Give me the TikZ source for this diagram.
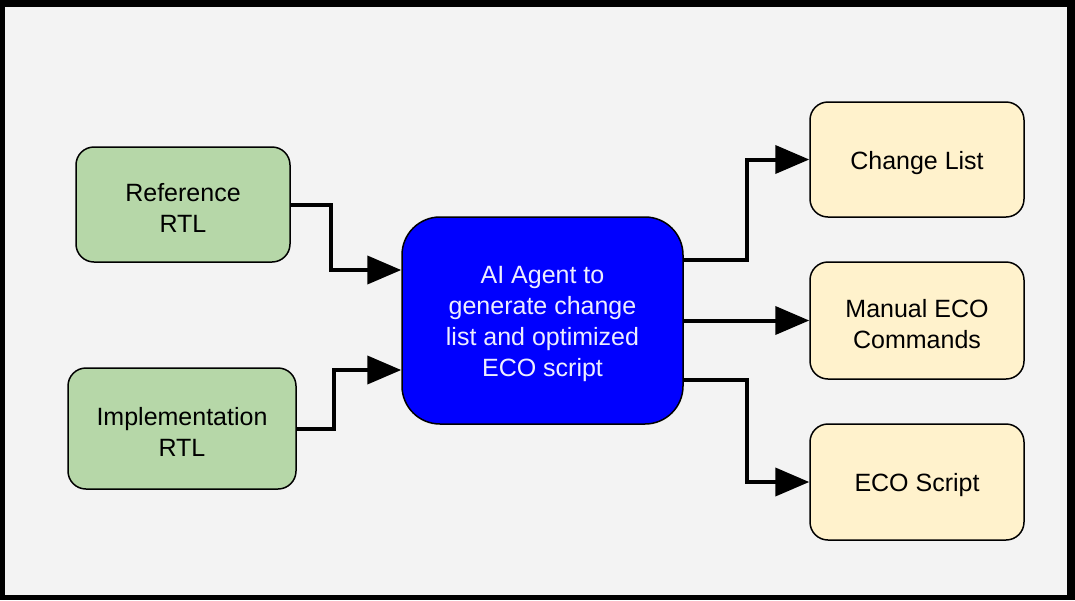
\documentclass[tikz,border=0pt]{standalone}
\usepackage{fontspec}
\setmainfont{Liberation Sans}
\usetikzlibrary{arrows.meta}
\definecolor{bggray}{HTML}{F3F3F3}
\definecolor{boxgreen}{HTML}{B6D7A8}
\definecolor{boxyellow}{HTML}{FFF2CC}
\definecolor{agentblue}{HTML}{0000FF}
\definecolor{agenttext}{HTML}{EEEEFF}
\newcommand\lo[1]{\raisebox{-3.5pt}[\height][\depth]{#1}}
\begin{document}
\begin{tikzpicture}[x=1pt,y=-1pt,
  box/.style={draw=black,line width=1.5pt,rounded corners=18pt,align=center,
    font=\fontsize{25}{31}\selectfont,inner sep=0pt},
  inbox/.style={box,fill=boxgreen},
  outbox/.style={box,fill=boxyellow},
  agentbox/.style={box,fill=agentblue,text=agenttext,rounded corners=38pt},
  conn/.style={line width=4pt,-{Triangle[length=34pt,width=28pt]}}]
\fill[black] (0,0) rectangle (1075,600);
\fill[bggray] (5,7) rectangle (1067,595);
\useasboundingbox (0,0) rectangle (1075,600);
\node[inbox,minimum width=214pt,minimum height=115pt] (ref) at (183,204.5) {\lo{Reference}\\\lo{RTL}};
\node[inbox,minimum width=228pt,minimum height=121pt] (impl) at (182,428.5) {\lo{Implementation}\\\lo{RTL}};
\node[agentbox,minimum width=281pt,minimum height=207pt] (agent) at (542.5,320.5) {\lo{AI Agent to}\\\lo{generate change}\\\lo{list and optimized}\\\lo{ECO script}};
\node[outbox,minimum width=214pt,minimum height=115pt] (cl) at (917,159.5) {\lo{Change List}};
\node[outbox,minimum width=214pt,minimum height=117pt] (man) at (917,320.5) {\lo{Manual ECO}\\\lo{Commands}};
\node[outbox,minimum width=214pt,minimum height=116pt] (eco) at (917,482) {\lo{ECO Script}};
\draw[conn] (ref.east) -- ++(40,0) |- (agent.west |- 0,270);
\draw[conn] (impl.east) -- ++(37,0) |- (agent.west |- 0,370);
\draw[conn] (agent.east |- 0,260) -- ++(63,0) |- (cl.west);
\draw[conn] (agent.east |- man.west) -- (man.west);
\draw[conn] (agent.east |- 0,380) -- ++(63,0) |- (eco.west);
\end{tikzpicture}
\end{document}
